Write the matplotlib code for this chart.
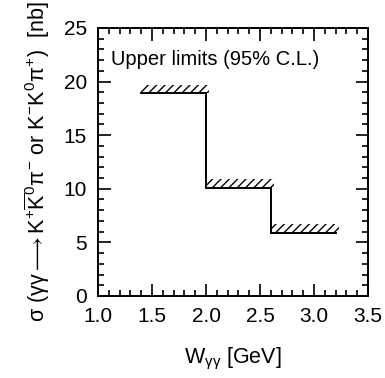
import matplotlib
matplotlib.use("Agg")
import matplotlib.pyplot as plt
from matplotlib.ticker import MultipleLocator

bin_edges = [1.4, 2.0, 2.6, 3.2]
upper_limits = [18.9, 10.1, 5.9]

plt.rcParams['font.family'] = ['Liberation Sans', 'DejaVu Sans']
plt.rcParams['mathtext.fontset'] = 'custom'
plt.rcParams['mathtext.rm'] = 'Liberation Sans'
plt.rcParams['mathtext.it'] = 'Liberation Sans'
plt.rcParams['hatch.linewidth'] = 1.0

fig = plt.figure(figsize=(3.85, 3.78), dpi=100)
ax = fig.add_axes([0.2545, 0.217, 0.7015, 0.709])

# step line
xs = []
ys = []
for i, v in enumerate(upper_limits):
    xs += [bin_edges[i], bin_edges[i + 1]]
    ys += [v, v]
ax.plot(xs, ys, color='black', lw=1.4, solid_joinstyle='miter')

# hatched band above each limit
for i, v in enumerate(upper_limits):
    ax.fill_between([bin_edges[i], bin_edges[i + 1] + 0.03], [v, v], [v + 0.8, v + 0.8],
                    facecolor='none', edgecolor='black', hatch='////', linewidth=0)

ax.set_xlim(1.0, 3.5)
ax.set_ylim(0, 25)
ax.set_xticks([1.0, 1.5, 2.0, 2.5, 3.0, 3.5])
ax.set_xticklabels(['1.0', '1.5', '2.0', '2.5', '3.0', '3.5'])
ax.xaxis.set_minor_locator(MultipleLocator(0.1))
ax.yaxis.set_major_locator(MultipleLocator(5))
ax.yaxis.set_minor_locator(MultipleLocator(1))
ax.tick_params(which='both', direction='in', top=True, right=True, width=1.2)
ax.tick_params(which='major', length=9, labelsize=15, pad=8)
ax.tick_params(which='minor', length=4.5)
for s in ax.spines.values():
    s.set_linewidth(1.4)

ax.text(1.12, 22.1, 'Upper limits (95% C.L.)', fontsize=14.5, va='center', ha='left')

ax.set_xlabel(r'W$_{\gamma\gamma}$ [GeV]', fontsize=15.5, labelpad=14)
ax.set_ylabel(r'$\sigma$ ($\gamma\gamma\longrightarrow$K$^{+}\overline{\mathrm{K}}^{0}\pi^{-}$ or K$^{-}$K$^{0}\pi^{+}$)  [nb]',
              fontsize=15.5, labelpad=8)

fig.savefig('out.png', dpi=100)
